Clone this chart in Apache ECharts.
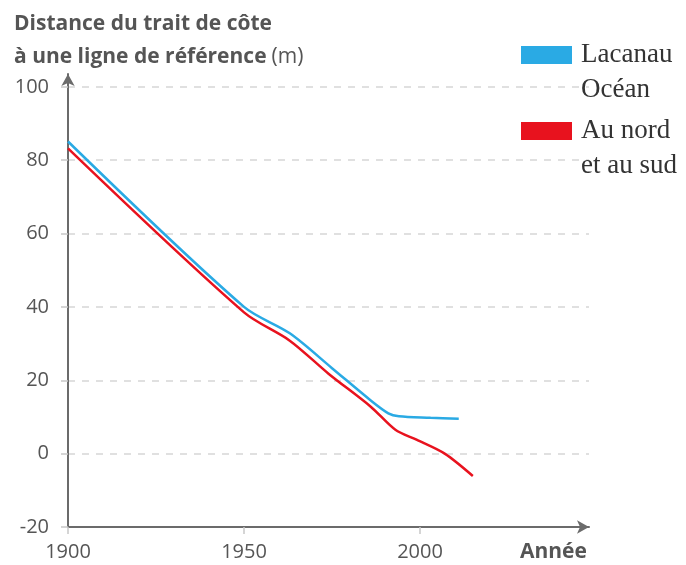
<!DOCTYPE html>
<html>
<head>
<meta charset="utf-8">
<script src="https://cdn.jsdelivr.net/npm/echarts@6/dist/echarts.min.js"></script>
<style>
  html, body { margin: 0; padding: 0; background: #fff; }
  #chart { width: 686px; height: 565px; }
</style>
</head>
<body>
<div id="chart"></div>
<script>
// Lacanau Océan
const lacanauYears = [1900, 1950, 1963, 1975, 1986, 1991, 1994, 2003, 2011];
const lacanauValues = [85.1, 40, 32.8, 23.3, 14.5, 11.0, 10.2, 9.8, 9.5];
// Au nord et au sud
const nordSudYears = [1900, 1950, 1963, 1974, 1986, 1993, 1999, 2007, 2015];
const nordSudValues = [83.2, 38.5, 30.8, 21.8, 12.8, 6.5, 3.8, 0, -6.1];

const yTicks = [-20, 0, 20, 40, 60, 80, 100];
const xTicks = [1900, 1950, 2000];

function pairs (xs, ys) {
  return xs.map((x, i) => [x, ys[i]]);
}

const chart = echarts.init(document.getElementById('chart'));

const labelFont = '"Open Sans", sans-serif';
const legendText = {
  fontFamily: '"Liberation Serif", "DejaVu Serif", serif',
  fontSize: 27,
  color: '#333',
  lineHeight: 35,
  padding: [0, 0, 0, 4]
};
// ligne vide en tête pour aligner la première ligne sur le carré de couleur
const legendFormatter = name => ' \n' + name;

const option = {
  animation: false,
  title: {
    left: 9,
    top: 3,
    text: '{b|Distance du trait de côte}\n{b|à une ligne de référence} {r|(m)}',
    textStyle: {
      rich: {
        b: { fontFamily: labelFont, fontWeight: 700, fontSize: 21, color: '#555', lineHeight: 33 },
        r: { fontFamily: labelFont, fontWeight: 400, fontSize: 21, color: '#555', lineHeight: 33 }
      }
    }
  },
  legend: [{
    left: 521,
    top: 2.5,
    padding: 0,
    icon: 'rect',
    itemWidth: 51,
    itemHeight: 18,
    itemGap: 0,
    formatter: legendFormatter,
    data: [{ name: 'Lacanau\nOcéan' }],
    textStyle: legendText
  }, {
    left: 521,
    top: 78.5,
    padding: 0,
    icon: 'rect',
    itemWidth: 51,
    itemHeight: 18,
    itemGap: 0,
    formatter: legendFormatter,
    data: [{ name: 'Au nord\net au sud' }],
    textStyle: legendText
  }],
  grid: {
    left: 68,
    right: 97,
    top: 74,
    bottom: 38,
    containLabel: false
  },
  xAxis: {
    type: 'value',
    min: 1900,
    max: 2048,
    interval: 50,
    name: 'Année',
    nameLocation: 'end',
    nameGap: -69,
    nameTextStyle: {
      fontFamily: labelFont,
      fontWeight: 700,
      fontSize: 21,
      color: '#555',
      align: 'left',
      verticalAlign: 'top',
      padding: [15, 0, 0, 0]
    },
    axisLine: {
      show: true,
      onZero: false,
      symbol: ['none', 'arrow'],
      symbolSize: [10, 12],
      lineStyle: { color: '#6b6b6b', width: 2 }
    },
    axisTick: {
      show: true,
      length: 7,
      lineStyle: { color: '#c8c8c8', width: 1.5 }
    },
    axisLabel: {
      showMaxLabel: false,
      margin: 15,
      fontFamily: labelFont,
      fontSize: 20,
      color: '#555',
      formatter: v => xTicks.includes(v) ? String(v) : ''
    },
    splitLine: { show: false }
  },
  yAxis: {
    type: 'value',
    min: -20,
    max: 103.5,
    interval: 20,
    axisLine: {
      show: true,
      onZero: false,
      symbol: ['none', 'arrow'],
      symbolSize: [10, 12],
      lineStyle: { color: '#6b6b6b', width: 2 }
    },
    axisTick: {
      show: true,
      length: 7,
      lineStyle: { color: '#c8c8c8', width: 1.5 }
    },
    axisLabel: {
      showMaxLabel: false,
      margin: 19,
      fontFamily: labelFont,
      fontSize: 20,
      color: '#555',
      formatter: v => yTicks.includes(v) ? String(v) : ''
    },
    splitLine: {
      show: true,
      showMinLine: false,
      showMaxLine: false,
      lineStyle: { color: '#d6d6d6', width: 1.5, type: [7, 7] }
    }
  },
  series: [{
    name: 'Lacanau\nOcéan',
    type: 'line',
    smooth: 0.3,
    symbol: 'none',
    color: '#2aaae4',
    lineStyle: { width: 2.5 },
    data: pairs(lacanauYears, lacanauValues)
  }, {
    name: 'Au nord\net au sud',
    type: 'line',
    smooth: 0.3,
    symbol: 'none',
    color: '#e8121e',
    lineStyle: { width: 2.5 },
    data: pairs(nordSudYears, nordSudValues)
  }]
};

chart.setOption(option);
</script>
</body>
</html>
